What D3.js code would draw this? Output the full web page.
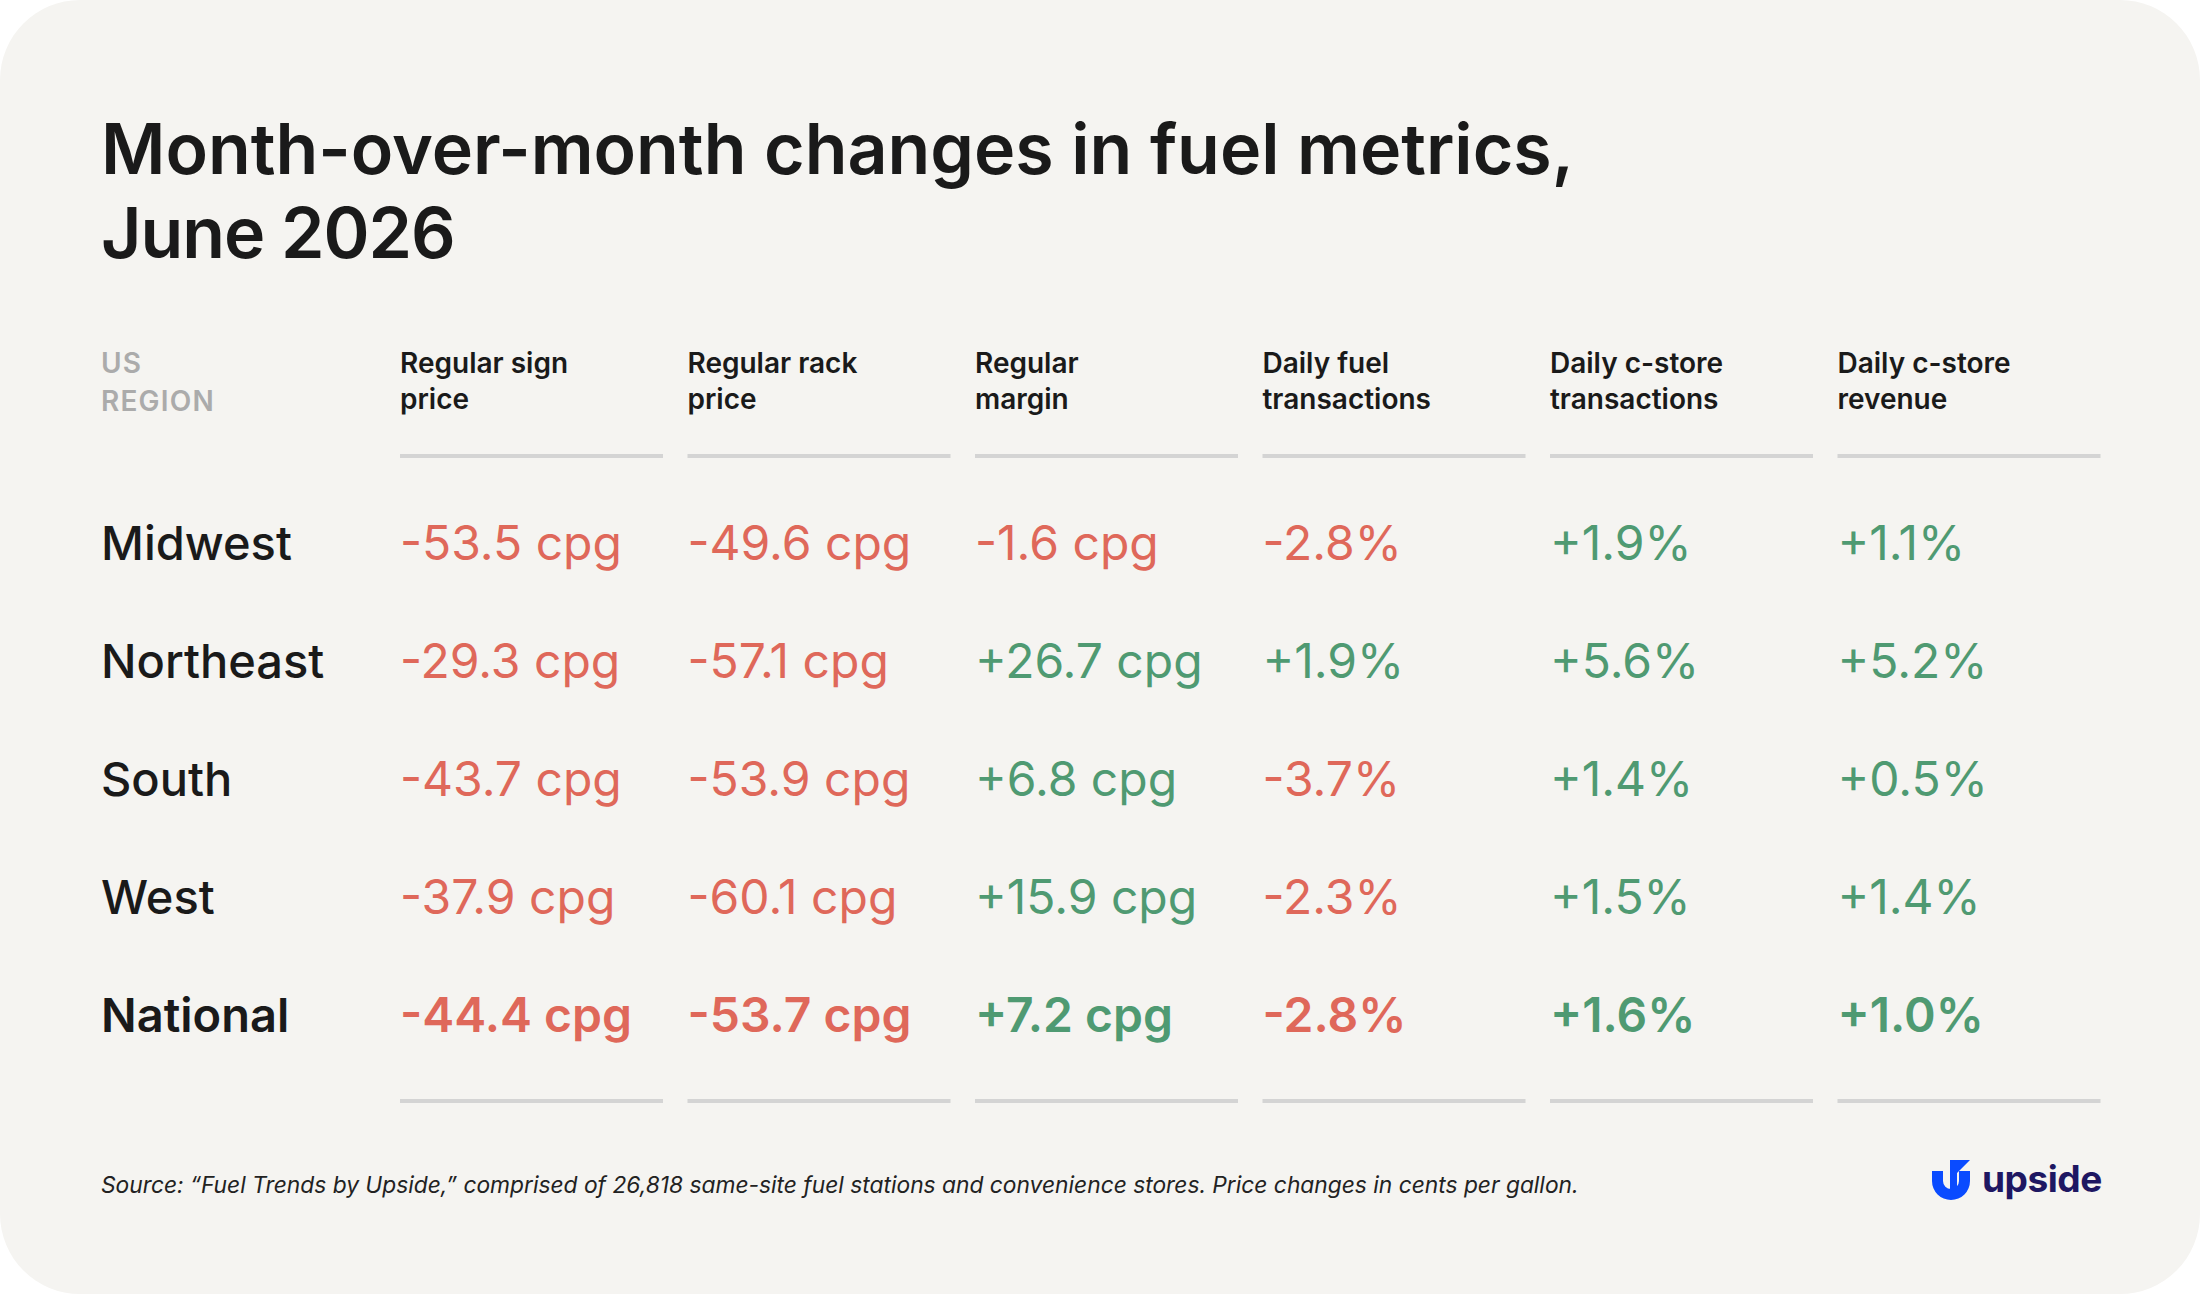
<!DOCTYPE html>
<html>
<head>
<meta charset="utf-8">
<script src="https://cdn.jsdelivr.net/npm/d3@7"></script>
<style>
  body { margin: 0; background: #ffffff; }
  svg { display: block; font-family: Inter, "Noto Sans", sans-serif; }
</style>
</head>
<body>
<svg id="chart"></svg>
<script>
// Table contents
const regions = ["Midwest", "Northeast", "South", "West", "National"];
const headerLines = [
  ["Regular sign", "price"],
  ["Regular rack", "price"],
  ["Regular", "margin"],
  ["Daily fuel", "transactions"],
  ["Daily c-store", "transactions"],
  ["Daily c-store", "revenue"]
];
const units = ["cpg", "cpg", "cpg", "%", "%", "%"];

const signPrice = [-53.5, -29.3, -43.7, -37.9, -44.4];
const rackPrice = [-49.6, -57.1, -53.9, -60.1, -53.7];
const regMargin = [-1.6, 26.7, 6.8, 15.9, 7.2];
const fuelTransactions = [-2.8, 1.9, -3.7, -2.3, -2.8];
const cstoreTransactions = [1.9, 5.6, 1.4, 1.5, 1.6];
const cstoreRevenue = [1.1, 5.2, 0.5, 1.4, 1.0];

const titleLines = ["Month-over-month changes in fuel metrics,", "June 2026"];
const sourceText = "Source: \u201cFuel Trends by Upside,\u201d comprised of 26,818 same-site fuel stations and convenience stores. Price changes in cents per gallon.";

const columns = [signPrice, rackPrice, regMargin, fuelTransactions, cstoreTransactions, cstoreRevenue];

const W = 2200, H = 1294;
const red = "#df685a", green = "#4f9a72", ink = "#1a1a1a";

const svg = d3.select("#chart").attr("width", W).attr("height", H);

// card background
svg.append("rect")
  .attr("width", W).attr("height", H)
  .attr("rx", 80).attr("ry", 80)
  .attr("fill", "#f5f4f1");

// shrink/grow font so text hits a target width
function fitWidth(sel, target) {
  const fs = parseFloat(sel.attr("font-size"));
  const w = sel.node().getComputedTextLength();
  sel.attr("font-size", fs * target / w);
}

// title
const t1 = svg.append("text")
  .attr("x", 101).attr("y", 174)
  .attr("font-size", 75).attr("font-weight", 600)
  .attr("fill", ink)
  .text(titleLines[0]);
fitWidth(t1, 1473);
svg.append("text")
  .attr("x", 101).attr("y", 258)
  .attr("font-size", t1.attr("font-size")).attr("font-weight", 600)
  .attr("fill", ink)
  .attr("letter-spacing", -1)
  .text(titleLines[1]);

// scales
const x = d3.scaleBand()
  .domain(d3.range(columns.length))
  .range([400, 2100.5])
  .paddingInner(0.0852)
  .paddingOuter(0);

const y = d3.scalePoint()
  .domain(regions)
  .range([560, 1032]);

// header
const regionHead = svg.append("text")
  .attr("x", 101).attr("font-size", 28).attr("font-weight", 600)
  .attr("fill", "#ababab")
  .attr("letter-spacing", 1.2);
regionHead.append("tspan").attr("x", 101).attr("y", 373).text("US");
regionHead.append("tspan").attr("x", 101).attr("y", 411).text("REGION");

const heads = svg.append("g").selectAll("text")
  .data(headerLines)
  .join("text")
  .attr("font-size", 28).attr("font-weight", 600)
  .attr("fill", ink);
heads.selectAll("tspan")
  .data((d, i) => d.map(s => ({ s, i })))
  .join("tspan")
  .attr("x", d => x(d.i))
  .attr("y", (d, j) => 373 + j * 36)
  .text(d => d.s);

// rules above and below the body
[454, 1099].forEach(ry => {
  svg.append("g").selectAll("rect")
    .data(d3.range(columns.length))
    .join("rect")
    .attr("x", d => x(d))
    .attr("y", ry)
    .attr("width", x.bandwidth())
    .attr("height", 4)
    .attr("fill", "#d4d4d4");
});

// region labels
svg.append("g").selectAll("text")
  .data(regions)
  .join("text")
  .attr("x", 101)
  .attr("y", d => y(d))
  .attr("font-size", 47)
  .attr("font-weight", d => d === "National" ? 600 : 500)
  .attr("fill", ink)
  .text(d => d);

function fmt(v, unit) {
  const s = (v > 0 ? "+" : "-") + Math.abs(v).toFixed(1);
  return unit === "%" ? s + "%" : s + " " + unit;
}

// values
columns.forEach((vals, ci) => {
  svg.append("g").selectAll("text")
    .data(vals)
    .join("text")
    .attr("x", x(ci))
    .attr("y", (d, ri) => y(regions[ri]))
    .attr("font-size", 48)
    .attr("font-weight", (d, ri) => regions[ri] === "National" ? 600 : 400)
    .attr("fill", d => d < 0 ? red : green)
    .text(d => fmt(d, units[ci]));
});

// source note
const src = svg.append("text")
  .attr("x", 101).attr("y", 1193)
  .attr("font-size", 22).attr("font-style", "italic")
  .attr("fill", "#222")
  .text(sourceText);
fitWidth(src, 1479);

// upside logo
const logo = svg.append("g").attr("transform", "translate(1932,1160)");
logo.append("path")
  .attr("d", "M0,11 L11,11 L11,21 A8,8 0 0 0 27,21 L27,11 L38,11 L38,21 A19,19 0 0 1 0,21 Z")
  .attr("fill", "#0a4bff");
logo.append("path")
  .attr("d", "M18,0 L38,0 L25,13 L25,29 L18,29 Z")
  .attr("fill", "#0a4bff");
const lt = svg.append("text")
  .attr("x", 1982).attr("y", 1192)
  .attr("font-size", 40).attr("font-weight", 700)
  .attr("fill", "#1e1762")
  .attr("letter-spacing", -0.5)
  .text("upside");
fitWidth(lt, 120);
</script>
</body>
</html>
